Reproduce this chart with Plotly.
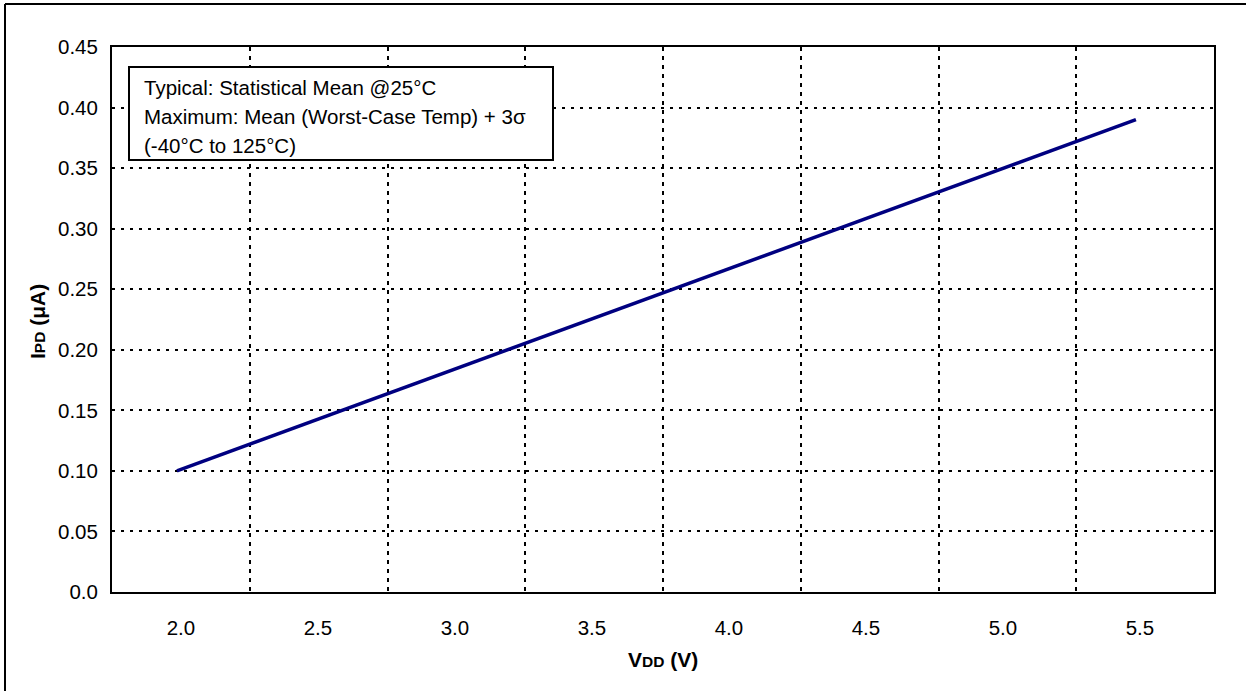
import plotly.graph_objects as go

# ---- data ----
vdd_ticks = [2.0, 2.5, 3.0, 3.5, 4.0, 4.5, 5.0, 5.5]
vdd_tick_text = ["2.0", "2.5", "3.0", "3.5", "4.0", "4.5", "5.0", "5.5"]
ipd_ticks = [0.0, 0.05, 0.10, 0.15, 0.20, 0.25, 0.30, 0.35, 0.40, 0.45]
ipd_tick_text = ["0.0", "0.05", "0.10", "0.15", "0.20", "0.25", "0.30", "0.35", "0.40", "0.45"]

vdd_line = [2.0, 5.5]
ipd_line = [0.10, 0.39]

note_lines = [
    "Typical: Statistical Mean @25°C",
    "Maximum: Mean (Worst-Case Temp) + 3σ",
    "(-40°C to 125°C)",
]

# ---- layout geometry (pixels) ----
W, H = 1246, 691
L, R, T, B = 112, 1214, 47, 592
pw, ph = R - L, B - T

def px_x(p):
    return (p - L) / pw

def px_y(p):
    return (B - p) / ph

FONT = "Arial, 'Liberation Sans', sans-serif"
x_range = [1.763, 5.785]
grid_x = [x_range[0] + k / 8 * (x_range[1] - x_range[0]) for k in range(1, 8)]

fig = go.Figure()
fig.add_trace(go.Scatter(
    x=vdd_line, y=ipd_line, mode="lines",
    line=dict(color="#000080", width=3.5),
    showlegend=False, hoverinfo="skip",
))

fig.update_layout(
    width=W, height=H,
    margin=dict(l=L, r=W - R, t=T, b=H - B, pad=0),
    paper_bgcolor="white", plot_bgcolor="white",
    font=dict(family=FONT, size=20.5, color="black"),
    showlegend=False,
)

fig.update_xaxes(
    range=x_range, tickmode="array", tickvals=vdd_ticks, ticktext=vdd_tick_text,
    showgrid=False, zeroline=False,
    showline=True, linecolor="black", linewidth=2, mirror=True,
    ticks="", ticklabelstandoff=16, ticklabelshift=4,
    tickfont=dict(size=20.5),
    minor=dict(tickmode="array", tickvals=grid_x, showgrid=True,
               gridcolor="black", gridwidth=2, griddash="4px,5px", ticks=""),
)
fig.update_yaxes(
    range=[0, 0.45], tickmode="array", tickvals=ipd_ticks, ticktext=ipd_tick_text,
    showgrid=True, gridcolor="black", gridwidth=2, griddash="3px,6px",
    zeroline=False,
    showline=True, linecolor="black", linewidth=2, mirror=True,
    ticks="", ticklabelstandoff=8,
    tickfont=dict(size=20.5),
)

# outer frame: only the left and top edges are visible in the picture
fig.add_shape(type="line", xref="paper", yref="paper",
              x0=px_x(5), x1=px_x(5), y0=px_y(705), y1=px_y(4),
              line=dict(color="black", width=2), layer="above")
fig.add_shape(type="line", xref="paper", yref="paper",
              x0=px_x(5), x1=px_x(1260), y0=px_y(4), y1=px_y(4),
              line=dict(color="black", width=2), layer="above")

# note box
fig.add_shape(type="rect", xref="paper", yref="paper",
              x0=px_x(129), x1=px_x(553), y0=px_y(160), y1=px_y(67),
              line=dict(color="black", width=2), fillcolor="white",
              layer="above")
for i, txt in enumerate(note_lines):
    fig.add_annotation(
        text=txt, xref="paper", yref="paper",
        x=px_x(142), y=px_y(87 + 29.5 * i),
        xanchor="left", yanchor="middle", showarrow=False,
        font=dict(size=20.5, family=FONT, color="black"),
    )

# axis titles
fig.add_annotation(
    text="<b>I<span style='font-size:15.5px'>PD</span> (μA)</b>",
    xref="paper", yref="paper", x=px_x(37), y=px_y(322),
    xanchor="center", yanchor="middle", textangle=-90, showarrow=False,
    font=dict(size=21, family=FONT, color="black"),
)
fig.add_annotation(
    text="<b>V<span style='font-size:15.5px'>DD</span> (V)</b>",
    xref="paper", yref="paper", x=px_x(663), y=px_y(659),
    xanchor="center", yanchor="middle", showarrow=False,
    font=dict(size=21, family=FONT, color="black"),
)

fig.write_html(
    "out.html",
    config={"displayModeBar": False},
    post_script="document.body.style.margin='0';document.body.style.overflow='hidden';",
)
